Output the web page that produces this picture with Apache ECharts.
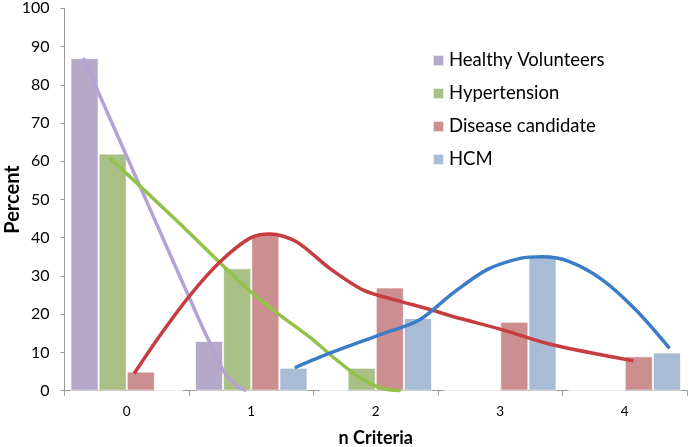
<!DOCTYPE html>
<html><head><meta charset="utf-8">
<script src="https://cdn.jsdelivr.net/npm/echarts@6/dist/echarts.min.js"></script>
<style>html,body{margin:0;padding:0;background:#fff}#c{width:689px;height:447px}</style>
</head><body><div id="c"></div>
<script>
const categories = ['0','1','2','3','4'];
const seriesNames = ['Healthy Volunteers','Hypertension','Disease candidate','HCM'];
const healthy = [87, 13, 0, 0, 0];
const hypertension = [62, 32, 6, 0, 0];
const disease = [5, 41, 27, 18, 9];
const hcm = [0, 6, 19, 35, 10];
const yTicks = [0,10,20,30,40,50,60,70,80,90,100];
// trend curves: [x in category units, percent]
const healthyCurve = [[-0.35,87],[0.16,49.5],[0.6,17.2],[0.7,10.4],[0.78,5],[0.88,1.3],[0.96,0]];
const hypertensionCurve = [[-0.14,61],[0.4,44.5],[0.94,27.5],[1.2,20.5],[1.47,14],[1.65,9],[1.86,3.7],[2.05,0.6],[2.2,0]];
const diseaseCurve = [[0.06,4.5],[0.26,14.1],[0.5,24.6],[0.75,33.7],[0.99,39.9],[1.15,41],[1.36,39],[1.63,32],[1.9,26.3],[2.16,23.7],[2.43,21.3],[2.62,19.4],[3.02,15.9],[3.42,12],[4.07,7.8]];
const hcmCurve = [[1.35,6],[1.63,9.8],[2.03,14.6],[2.35,18.5],[2.62,25.5],[2.89,31.6],[3.16,34.6],[3.34,35],[3.56,33.7],[3.82,29],[4.09,21.1],[4.36,11.1]];

const barColors = ['#b5a9c9','#a8bf85','#cc8f8f','#a9bcd6'];
const lineColors = ['#b3a2d4','#93c24a','#c53d3e','#3b7cc8'];
const font = 'Lato, "Open Sans", sans-serif';
const barData = [healthy, hypertension, disease, hcm];
const curves = [healthyCurve, hypertensionCurve, diseaseCurve, hcmCurve];

const chart = echarts.init(document.getElementById('c'));
const series = [];
barData.forEach((d, i) => series.push({
  name: seriesNames[i], type: 'bar', data: d, xAxisIndex: 0, yAxisIndex: 0,
  barGap: '0%', barCategoryGap: '9.6%',
  itemStyle: { color: barColors[i], borderColor: 'rgba(255,255,255,0.7)', borderWidth: 1 },
  z: 2
}));
curves.forEach((d, i) => series.push({
  name: seriesNames[i] + ' trend', type: 'line', data: d, xAxisIndex: 1, yAxisIndex: 0,
  smooth: 0.3, symbol: 'none', lineStyle: { color: lineColors[i], width: 3.5 }, z: 5
}));

chart.setOption({
  animation: false,
  grid: { left: 64.5, right: 2, top: 8.3, bottom: 56.3, containLabel: false, outerBoundsMode: 'none' },
  legend: {
    data: seriesNames, orient: 'vertical', left: 427, top: 46,
    itemWidth: 11, itemHeight: 11, itemGap: 14, icon: 'rect',
    textStyle: { fontFamily: font, fontSize: 18.5, color: '#000' }
  },
  xAxis: [{
    type: 'category', data: categories,
    name: 'n Criteria', nameLocation: 'middle', nameGap: 38, nameMoveOverlap: false,
    nameTextStyle: { fontFamily: font, fontSize: 18, fontWeight: 'bold', color: '#000' },
    axisLine: { lineStyle: { color: '#999' } },
    axisTick: { show: true, length: 5, lineStyle: { color: '#999' } },
    axisLabel: { fontFamily: font, fontSize: 13.5, color: '#000', margin: 14 },
    splitLine: { show: false }
  }, {
    type: 'value', min: -0.5, max: 4.5, show: false
  }],
  yAxis: {
    type: 'value', min: 0, max: 100, interval: 10,
    name: 'Percent', nameLocation: 'middle', nameGap: 42, nameMoveOverlap: false,
    nameTextStyle: { fontFamily: font, fontSize: 20, fontWeight: 'bold', color: '#000' },
    axisLine: { show: true, onZero: false, lineStyle: { color: '#999' } },
    axisTick: { show: true, length: 4, lineStyle: { color: '#999' } },
    axisLabel: { fontFamily: font, fontSize: 16, color: '#000', margin: 15,
      formatter: v => yTicks.includes(v) ? String(v) : '' },
    splitLine: { show: false }
  },
  series: series
});
</script></body></html>
